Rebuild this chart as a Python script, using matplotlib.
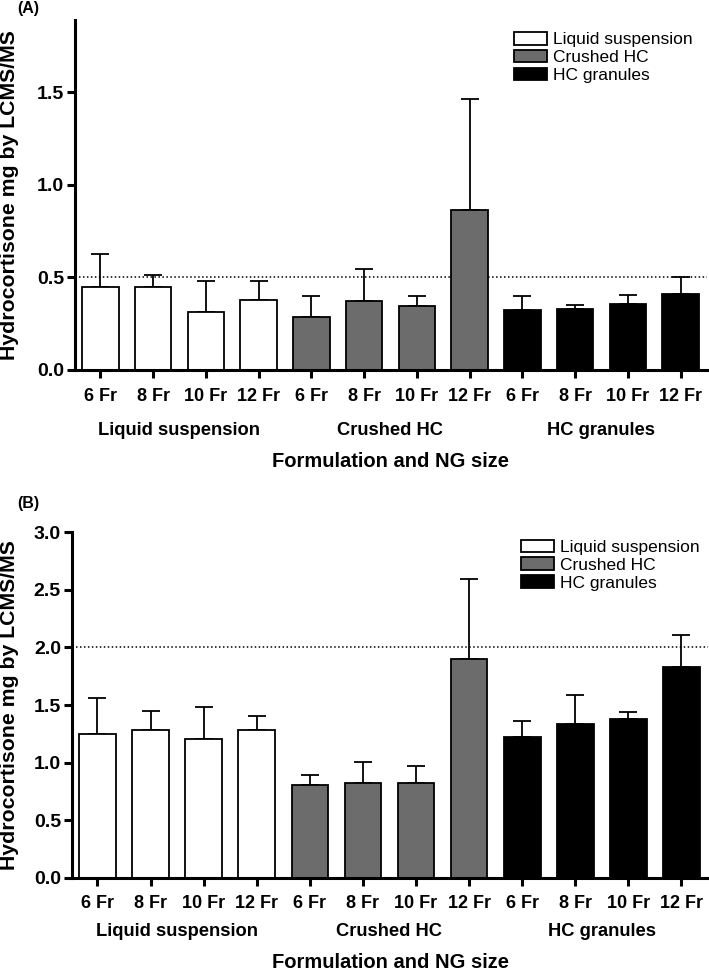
import numpy as np
import matplotlib.pyplot as plt
from matplotlib.patches import Patch

plt.rcParams['font.family'] = ['Liberation Sans', 'DejaVu Sans']

# x categories
sizes = ['6 Fr', '8 Fr', '10 Fr', '12 Fr']
groups = ['Liquid suspension', 'Crushed HC', 'HC granules']
group_colors = ['white', '#6c6c6c', 'black']

# Panel A values (mean and SD, mg)
means_a = [0.45, 0.45, 0.315, 0.38,
           0.285, 0.375, 0.345, 0.865,
           0.325, 0.33, 0.357, 0.41]
sds_a = [0.178, 0.065, 0.163, 0.098,
         0.115, 0.17, 0.052, 0.598,
         0.072, 0.022, 0.048, 0.09]

# Panel B values (mean and SD, mg)
means_b = [1.25, 1.283, 1.208, 1.283,
           0.802, 0.825, 0.825, 1.903,
           1.219, 1.338, 1.376, 1.828]
sds_b = [0.315, 0.168, 0.278, 0.122,
         0.093, 0.18, 0.142, 0.689,
         0.145, 0.246, 0.064, 0.278]

target_a = 0.5
target_b = 2.0

fig = plt.figure(figsize=(7.09, 9.71), dpi=100)
ax_a = fig.add_axes([75 / 709, 601 / 971, 632 / 709, 350 / 971])
ax_b = fig.add_axes([72 / 709, 93.3 / 971, 636 / 709, 345.4 / 971])


def draw_panel(ax, means, sds, target, ylim, yticks, tick_off, grp_off, lab_off,
               leg_anchor, ylab_x):
    n = len(means)
    x = np.arange(n)
    colors = [group_colors[i // 4] for i in range(n)]
    ax.bar(x, means, width=0.69, color=colors, edgecolor='black', linewidth=1.3, zorder=2)
    ax.errorbar(x, means, yerr=[np.zeros(n), sds], fmt='none', ecolor='black',
                elinewidth=1.3, capsize=6.5, capthick=1.3, zorder=1)
    ax.axhline(target, color='black', linestyle=(0, (1, 1.6)), linewidth=1.1, zorder=0)

    ax.set_xlim(-0.48, n - 0.5)
    ax.set_ylim(*ylim)
    ax.set_yticks(yticks)
    ax.set_yticklabels(['%.1f' % v for v in yticks], fontsize=14, fontweight='bold')
    ax.set_xticks(x)
    ax.set_xticklabels([])
    for i in range(n):
        ax.annotate(sizes[i % 4], xy=(i, 0), xycoords=('data', 'axes fraction'),
                    xytext=(0, -tick_off), textcoords='offset pixels',
                    ha='center', va='baseline', fontsize=13, fontweight='bold')
    for g, name in enumerate(groups):
        ax.annotate(name, xy=(g * 4 + 1.5, 0), xycoords=('data', 'axes fraction'),
                    xytext=(0, -grp_off), textcoords='offset pixels',
                    ha='center', va='baseline', fontsize=13.2, fontweight='bold')
    ax.annotate('Formulation and NG size', xy=(0.5, 0), xycoords='axes fraction',
                xytext=(0, -lab_off), textcoords='offset pixels',
                ha='center', va='baseline', fontsize=14.5, fontweight='bold')
    ax.set_ylabel('Hydrocortisone mg by LCMS/MS', fontsize=15.3, fontweight='bold')
    ax.yaxis.set_label_coords(ylab_x, 0.5)

    for s in ['top', 'right']:
        ax.spines[s].set_visible(False)
    for s in ['left', 'bottom']:
        ax.spines[s].set_linewidth(2.2)
    ax.tick_params(axis='both', width=2.2, length=6, pad=2)

    handles = [Patch(facecolor=c, edgecolor='black', linewidth=1.3) for c in group_colors]
    ax.legend(handles, groups, loc='upper right', bbox_to_anchor=leg_anchor, frameon=False,
              fontsize=12.5, handlelength=1.9, handleheight=0.75, labelspacing=0.14,
              handletextpad=0.35, borderaxespad=0)


draw_panel(ax_a, means_a, sds_a, target_a, (0, 1.89), [0, 0.5, 1.0, 1.5],
           31, 65, 97, (0.989, 0.986), (19 - 75) / 632)
draw_panel(ax_b, means_b, sds_b, target_b, (0, 3.0), [0, 0.5, 1.0, 1.5, 2.0, 2.5, 3.0],
           30, 58, 90, (0.998, 0.999), (19 - 72) / 636)

fig.text(17 / 709, 1 - 9 / 971, '(A)', fontsize=11.5, fontweight='bold', va='center')
fig.text(17 / 709, 1 - 503 / 971, '(B)', fontsize=11.5, fontweight='bold', va='center')

plt.savefig('out.png', dpi=100)
